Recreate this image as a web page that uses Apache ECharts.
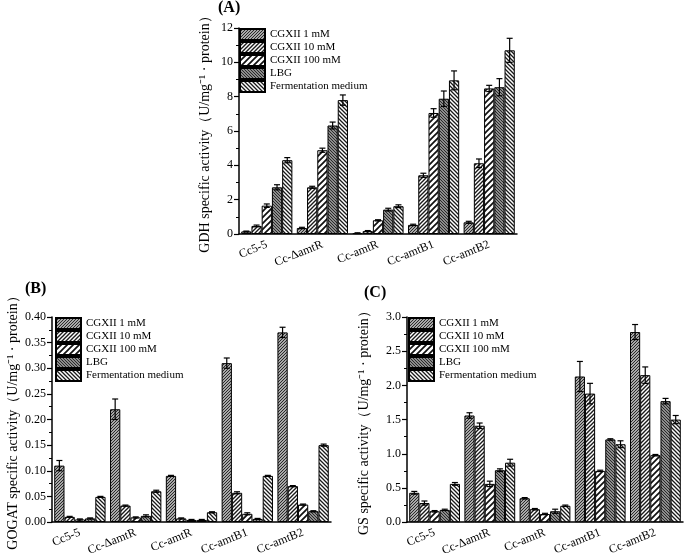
<!DOCTYPE html>
<html>
<head>
<meta charset="utf-8">
<script src="https://cdn.jsdelivr.net/npm/echarts@6/dist/echarts.min.js"></script>
<style>html,body{margin:0;padding:0;background:#fff}#c{width:685px;height:558px}</style>
</head>
<body>
<div id="c"></div>
<script>
const categories = ['Cc5-5', 'Cc-\u0394amtR', 'Cc-amtR', 'Cc-amtB1', 'Cc-amtB2'];
const seriesNames = ['CGXII 1 mM', 'CGXII 10 mM', 'CGXII 100 mM', 'LBG', 'Fermentation medium'];

// Panel A: GDH
const gdh1 = [0.15, 0.35, 0.05, 0.53, 0.68];
const gdh10 = [0.47, 2.72, 0.17, 3.42, 4.12];
const gdh100 = [1.65, 4.88, 0.80, 7.05, 8.48];
const gdhLBG = [2.72, 6.32, 1.42, 7.88, 8.55];
const gdhFM = [4.30, 7.80, 1.62, 8.95, 10.70];
const gdh1Err = [0.02, 0.04, 0.02, 0.04, 0.06];
const gdh10Err = [0.05, 0.06, 0.03, 0.12, 0.25];
const gdh100Err = [0.10, 0.12, 0.03, 0.25, 0.18];
const gdhLBGErr = [0.15, 0.20, 0.08, 0.45, 0.50];
const gdhFMErr = [0.15, 0.30, 0.08, 0.55, 0.70];

// Panel B: GOGAT
const gogat1 = [0.110, 0.220, 0.090, 0.310, 0.370];
const gogat10 = [0.010, 0.032, 0.007, 0.057, 0.070];
const gogat100 = [0.005, 0.009, 0.004, 0.016, 0.034];
const gogatLBG = [0.007, 0.012, 0.004, 0.006, 0.021];
const gogatFM = [0.049, 0.060, 0.019, 0.090, 0.150];
const gogat1Err = [0.010, 0.020, 0.001, 0.010, 0.010];
const gogat10Err = [0.001, 0.001, 0.001, 0.002, 0.001];
const gogat100Err = [0.001, 0.001, 0.001, 0.002, 0.001];
const gogatLBGErr = [0.001, 0.002, 0.001, 0.001, 0.001];
const gogatFMErr = [0.001, 0.002, 0.001, 0.001, 0.002];

// Panel C: GS
const gs1 = [0.43, 1.56, 0.35, 2.13, 2.78];
const gs10 = [0.28, 1.41, 0.19, 1.88, 2.15];
const gs100 = [0.16, 0.56, 0.12, 0.75, 0.98];
const gsLBG = [0.18, 0.76, 0.16, 1.21, 1.77];
const gsFM = [0.56, 0.87, 0.24, 1.14, 1.50];
const gs1Err = [0.02, 0.04, 0.01, 0.22, 0.11];
const gs10Err = [0.03, 0.04, 0.01, 0.15, 0.12];
const gs100Err = [0.01, 0.04, 0.01, 0.01, 0.01];
const gsLBGErr = [0.01, 0.02, 0.03, 0.01, 0.04];
const gsFMErr = [0.02, 0.05, 0.01, 0.05, 0.06];

const yTicksA = [0, 12, 2];
const yTicksB = [0, 0.40, 0.05];
const yTicksC = [0, 3.0, 0.5];

const FONT = '"Liberation Serif", "Times New Roman", serif';

function hatch(s, lw, dir, bg, fg) {
  const c = document.createElement('canvas');
  c.width = s; c.height = s;
  const g = c.getContext('2d');
  g.fillStyle = bg; g.fillRect(0, 0, s, s);
  g.strokeStyle = fg; g.lineWidth = lw;
  g.beginPath();
  if (dir === '/') {
    for (let k = 0; k <= 2; k++) { g.moveTo(k * s + 1, -1); g.lineTo(k * s - s - 1, s + 1); }
  } else {
    for (let k = -1; k <= 1; k++) { g.moveTo(k * s - 1, -1); g.lineTo(k * s + s + 1, s + 1); }
  }
  g.stroke();
  return { image: c, repeat: 'repeat' };
}
const patterns = [
  hatch(3, 1.0, '/', '#a8a8a8', '#2a2a2a'),
  hatch(4, 1.4, '/', '#ffffff', '#1a1a1a'),
  hatch(6, 1.7, '/', '#ffffff', '#111111'),
  hatch(3, 1.0, '\\', '#8c8c8c', '#2a2a2a'),
  hatch(4, 1.3, '\\', '#ffffff', '#1a1a1a')
];

const panels = [
  { vals: [gdh1, gdh10, gdh100, gdhLBG, gdhFM], errs: [gdh1Err, gdh10Err, gdh100Err, gdhLBGErr, gdhFMErr], ticks: yTicksA, dec: 0,
    name: 'GDH specific activity\uFF08U/mg\u207B\u00B9 \u00B7 protein\uFF09', grid: { left: 239, top: 28, width: 278, height: 206 }, nameGap: 27 },
  { vals: [gogat1, gogat10, gogat100, gogatLBG, gogatFM], errs: [gogat1Err, gogat10Err, gogat100Err, gogatLBGErr, gogatFMErr], ticks: yTicksB, dec: 2,
    name: 'GOGAT specific activity\uFF08U/mg\u207B\u00B9 \u00B7 protein\uFF09', grid: { left: 52, top: 317, width: 279, height: 205 }, nameGap: 32 },
  { vals: [gs1, gs10, gs100, gsLBG, gsFM], errs: [gs1Err, gs10Err, gs100Err, gsLBGErr, gsFMErr], ticks: yTicksC, dec: 1,
    name: 'GS specific activity\uFF08U/mg\u207B\u00B9 \u00B7 protein\uFF09', grid: { left: 407, top: 317, width: 276, height: 206 }, nameGap: 36 }
];

const GAP = 0.08;
const grids = [], xAxes = [], yAxes = [], series = [], legends = [];
const legendPos = [{ left: 239, top: 28 }, { left: 55, top: 317 }, { left: 408, top: 317 }];

panels.forEach((p, pi) => {
  grids.push(p.grid);
  xAxes.push({
    type: 'category', gridIndex: pi, data: categories,
    axisLine: { lineStyle: { color: '#000', width: 1.5 } },
    axisTick: { alignWithLabel: true, length: 5, lineStyle: { color: '#000', width: 1.2 } },
    axisLabel: { rotate: 22, margin: 10, fontFamily: FONT, fontSize: 12, color: '#000' }
  });
  yAxes.push({
    type: 'value', gridIndex: pi, min: p.ticks[0], max: p.ticks[1], interval: p.ticks[2],
    name: p.name, nameLocation: 'middle', nameGap: p.nameGap,
    nameTextStyle: { fontFamily: FONT, fontSize: 14, color: '#000' },
    axisLine: { show: true, lineStyle: { color: '#000', width: 1.5 } },
    axisTick: { show: true, length: 5, lineStyle: { color: '#000', width: 1.2 } },
    minorTick: { show: true, splitNumber: 2, length: 3, lineStyle: { color: '#000', width: 1 } },
    splitLine: { show: false },
    axisLabel: { fontFamily: FONT, fontSize: 12, color: '#000', margin: 6, formatter: v => v.toFixed(p.dec) }
  });
  legends.push({
    orient: 'vertical', left: legendPos[pi].left, top: legendPos[pi].top, padding: 0,
    itemWidth: 25, itemHeight: 11, itemGap: 0, icon: 'rect',
    data: seriesNames,
    textStyle: { fontFamily: FONT, fontSize: 11, color: '#000', lineHeight: 11 }
  });
  p.vals.forEach((arr, si) => {
    series.push({
      type: 'bar', name: seriesNames[si], xAxisIndex: pi, yAxisIndex: pi,
      data: arr, barGap: '0%', barCategoryGap: (GAP * 100) + '%',
      itemStyle: { color: patterns[si], borderColor: '#000', borderWidth: 1 },
      emphasis: { disabled: true }, animation: false
    });
  });
  const errData = [];
  p.vals.forEach((arr, si) => arr.forEach((v, ci) => errData.push([ci, si, v, p.errs[si][ci]])));
  series.push({
    type: 'custom', xAxisIndex: pi, yAxisIndex: pi, z: 10, animation: false,
    data: errData, encode: { x: 0, y: 2 },
    renderItem: function (params, api) {
      const ci = api.value(0), si = api.value(1), v = api.value(2), e = api.value(3);
      const band = api.size([1, 0])[0];
      const groupW = band * (1 - GAP);
      const bw = groupW / 5;
      const c = api.coord([ci, v]);
      const x = c[0] - groupW / 2 + bw * (si + 0.5);
      const yt = api.coord([ci, v + e])[1];
      const yb = api.coord([ci, Math.max(v - e, 0)])[1];
      const cap = 3;
      const st = { stroke: '#000', lineWidth: 1.2 };
      return { type: 'group', children: [
        { type: 'line', shape: { x1: x, y1: yt, x2: x, y2: yb }, style: st },
        { type: 'line', shape: { x1: x - cap, y1: yt, x2: x + cap, y2: yt }, style: st },
        { type: 'line', shape: { x1: x - cap, y1: yb, x2: x + cap, y2: yb }, style: st }
      ] };
    }
  });
});

const chart = echarts.init(document.getElementById('c'), null, { renderer: 'canvas' });
const tStyle = { fontFamily: FONT, fontSize: 16, fontWeight: 'bold', color: '#000' };
chart.setOption({
  animation: false,
  backgroundColor: '#fff',
  title: [
    { text: '(A)', left: 218, top: 0, padding: 0, textStyle: tStyle },
    { text: '(B)', left: 25, top: 281, padding: 0, textStyle: tStyle },
    { text: '(C)', left: 364, top: 285, padding: 0, textStyle: tStyle }
  ],
  grid: grids, xAxis: xAxes, yAxis: yAxes, legend: legends, series: series
});
</script>
</body>
</html>
